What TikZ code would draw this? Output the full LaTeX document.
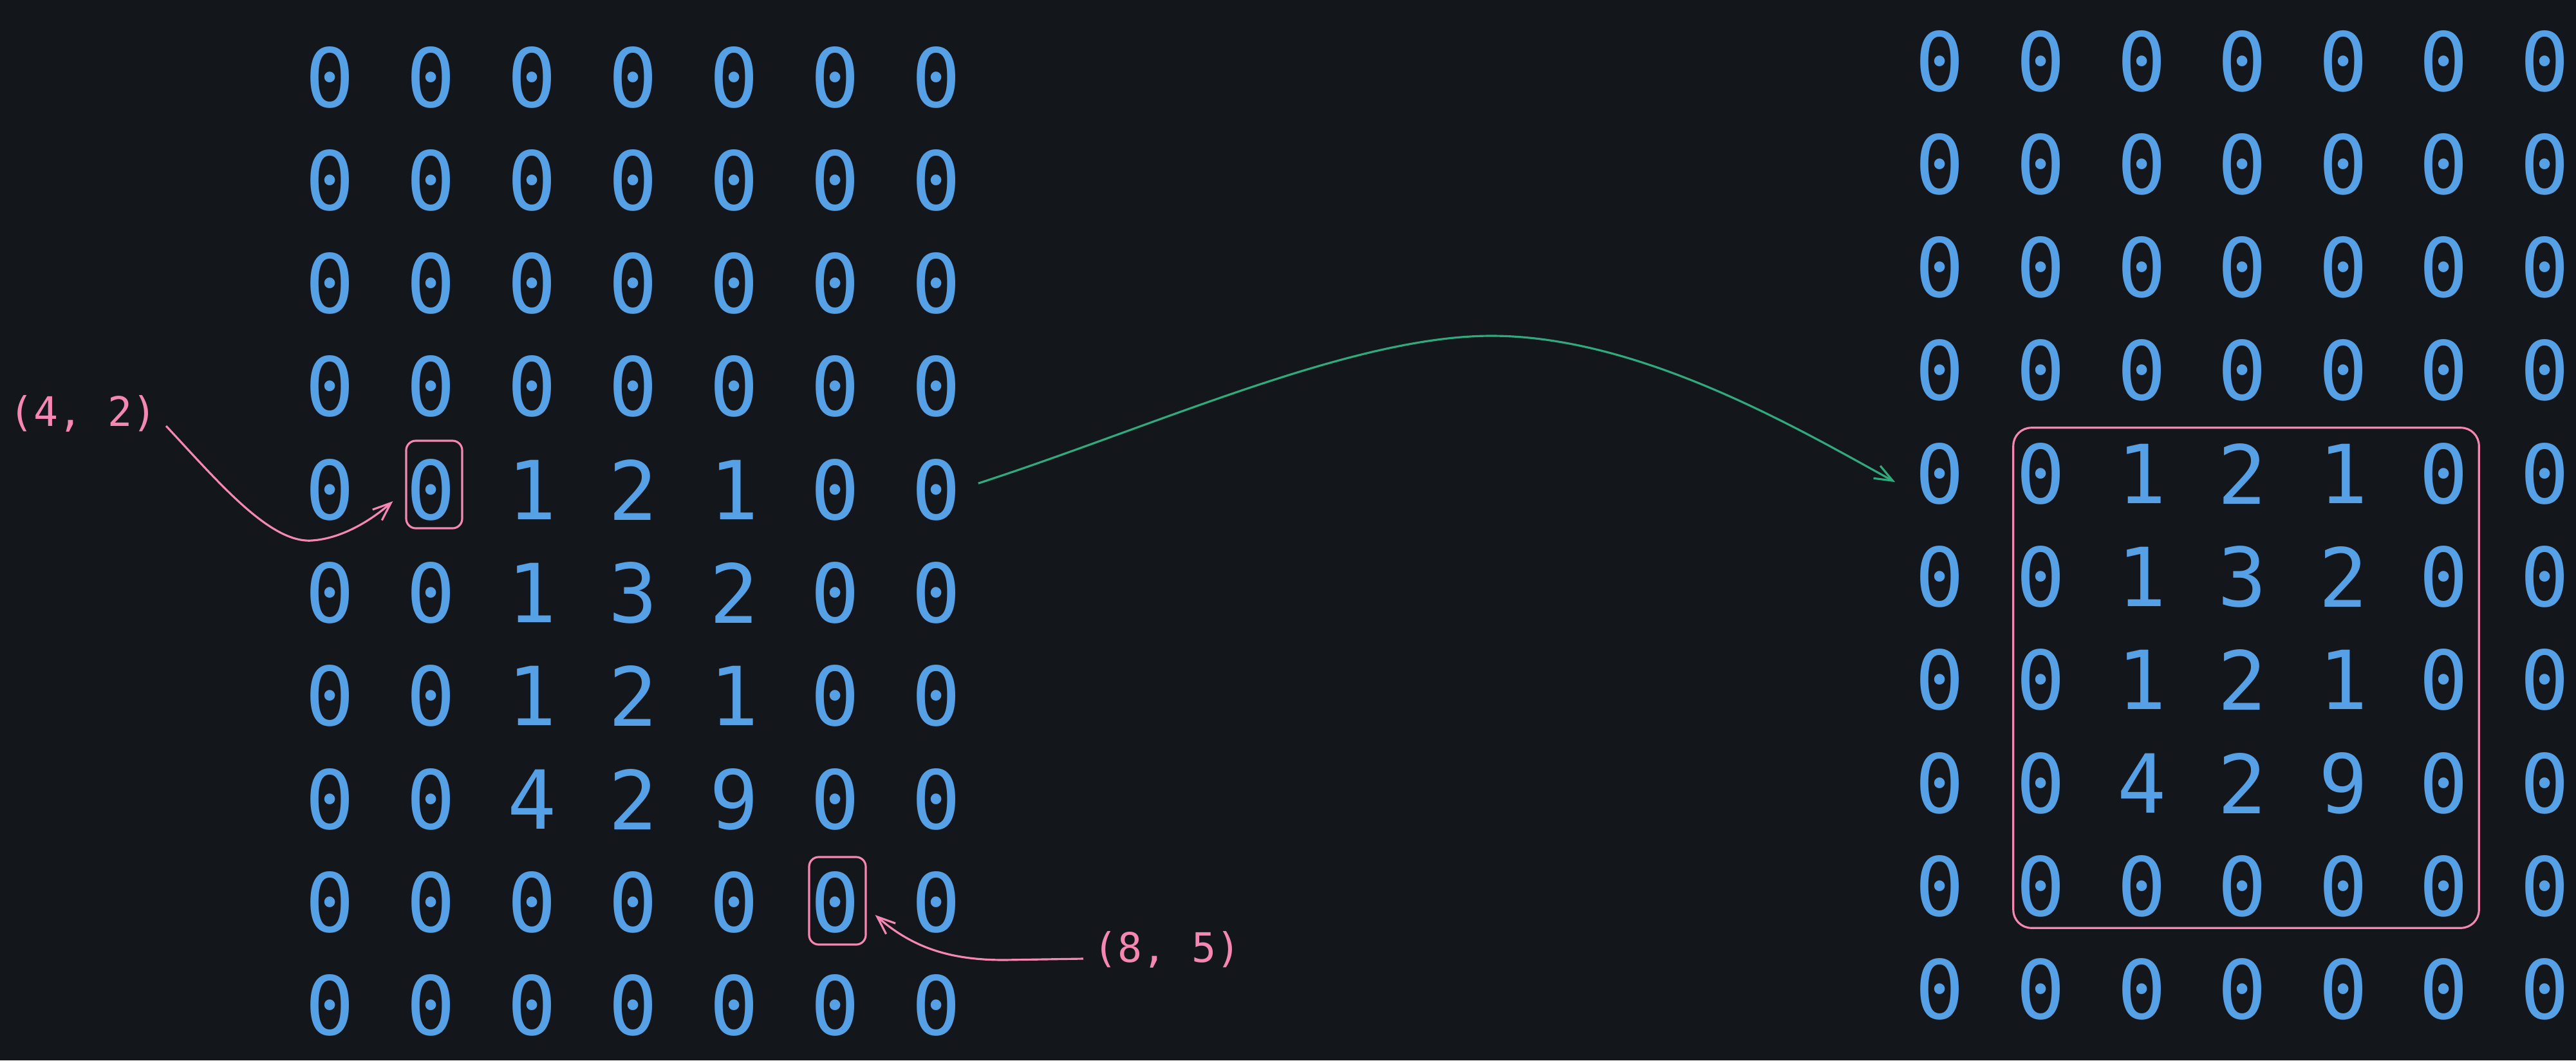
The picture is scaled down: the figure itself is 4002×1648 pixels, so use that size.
\documentclass[tikz,border=0pt]{standalone}
\usepackage{fontspec}
\newfontfamily\digfont{DejaVu Sans Mono}
\usetikzlibrary{arrows.meta,calc}
\definecolor{bg}{HTML}{13161B}
\definecolor{digblue}{HTML}{56A0E6}
\definecolor{lpink}{HTML}{F587B4}
\definecolor{agreen}{HTML}{2EAA7D}
\begin{document}
\begin{tikzpicture}[x=0.01cm,y=-0.01cm,
  digit/.style={text=digblue, font=\digfont\fontsize{36}{40}\selectfont, inner sep=0pt, anchor=center},
  coordlabel/.style={text=lpink, font=\digfont\fontsize{18}{20}\selectfont, inner sep=0pt},
  hibox/.style={draw=lpink, line width=0.9pt, rounded corners=0.15cm, inner sep=0pt},
  pinkarrow/.style={draw=lpink, line width=0.9pt, -{Straight Barb[length=0.28cm,width=0.22cm]}},
  greenarrow/.style={draw=agreen, line width=0.9pt, -{Straight Barb[length=0.28cm,width=0.22cm]}}]
\fill[bg] (0,0) rectangle (4002,1648);
\useasboundingbox (0,0) rectangle (4002,1648);

\foreach \r/\vals in {0/{0,0,0,0,0,0,0},1/{0,0,0,0,0,0,0},2/{0,0,0,0,0,0,0},3/{0,0,0,0,0,0,0},
  4/{0,0,1,2,1,0,0},5/{0,0,1,3,2,0,0},6/{0,0,1,2,1,0,0},7/{0,0,4,2,9,0,0},8/{0,0,0,0,0,0,0},9/{0,0,0,0,0,0,0}}{
  \foreach \val [count=\c from 0] in \vals {
    \node[digit] (L-\r-\c) at ({513+157*\c},{120+160.3*\r}) {\val};
    \node[digit] (R-\r-\c) at ({3014+156.6*\c},{95+160.3*\r}) {\val};
  }
}

\node[coordlabel] (lab42) at (129,643) {(4, 2)};
\node[coordlabel] (lab85) at (1813,1476) {(8, 5)};

\node[hibox, minimum width=0.87cm, minimum height=1.36cm] (box42) at (674.5,753) {};
\node[hibox, minimum width=0.88cm, minimum height=1.36cm] (box85) at (1301,1400) {};
\node[hibox, rounded corners=0.28cm, minimum width=7.23cm, minimum height=7.77cm] (bigbox) at (3489.5,1053.5) {};

\draw[pinkarrow] ($(lab42.east)+(14,19)$) .. controls (340,750) and (420,845) .. (485,840)
  .. controls (530,837) and (575,810) .. ($(box42.west)+(-19,26)$);
\draw[pinkarrow] ($(lab85.west)+(-15,14)$) -- (1560,1492) .. controls (1480,1492) and (1420,1475) .. ($(box85.east)+(13,22)$);
\draw[greenarrow] ($(L-4-6.east)+(26,-10)$) .. controls (1800,660) and (2100,522) .. (2317,522)
  .. controls (2550,522) and (2800,670) .. ($(R-4-0.west)+(-31,13)$);
\end{tikzpicture}
\end{document}
